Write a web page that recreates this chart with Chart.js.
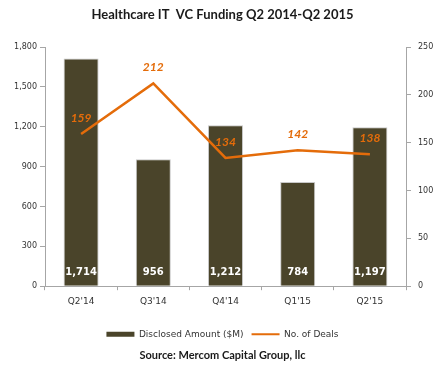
<!DOCTYPE html>
<html>
<head>
<meta charset="utf-8">
<script src="https://cdn.jsdelivr.net/npm/chart.js@4/dist/chart.umd.min.js"></script>
<style>
  html, body { margin: 0; padding: 0; background: #fff; }
  #wrap { width: 445px; height: 374px; }
</style>
</head>
<body>
<div id="wrap"><canvas id="chart" width="445" height="374"></canvas></div>
<script>
// data
const quarters = ["Q2'14", "Q3'14", "Q4'14", "Q1'15", "Q2'15"];
const disclosedAmount = [1714, 956, 1212, 784, 1197];
const dealCount = [159, 212, 134, 142, 138];
const leftTicks = [0, 300, 600, 900, 1200, 1500, 1800];
const rightTicks = [0, 50, 100, 150, 200, 250];

const barColor = "#4a442a";
const lineColor = "#e46c0a";
const axisColor = "#a6a6a6";
const textColor = "#333333";

// value labels: white in the bars, orange above the line
const valueLabels = {
  id: "valueLabels",
  afterDatasetsDraw(chart) {
    const ctx = chart.ctx;
    ctx.save();
    ctx.textAlign = "center";
    ctx.textBaseline = "middle";

    const bars = chart.getDatasetMeta(0);
    ctx.fillStyle = "#ffffff";
    ctx.font = "bold 10px 'DejaVu Sans'";
    bars.data.forEach((el, i) => {
      ctx.fillText(disclosedAmount[i].toLocaleString("en-US"), el.x, el.base - 13);
    });

    const line = chart.getDatasetMeta(1);
    ctx.fillStyle = lineColor;
    ctx.font = "italic bold 12px Lato";
    line.data.forEach((el, i) => {
      ctx.fillText(String(dealCount[i]), el.x, el.y - 16);
    });
    ctx.restore();
  },
};

new Chart(document.getElementById("chart"), {
  data: {
    labels: quarters,
    datasets: [
      {
        type: "bar",
        label: "Disclosed Amount ($M)",
        data: disclosedAmount,
        yAxisID: "yAmount",
        backgroundColor: barColor,
        borderColor: "#c8c8c8",
        borderWidth: 1,
        barPercentage: 0.485,
        categoryPercentage: 1,
        order: 2,
      },
      {
        type: "line",
        label: "No. of Deals",
        data: dealCount,
        yAxisID: "yDeals",
        borderColor: lineColor,
        backgroundColor: lineColor,
        borderWidth: 2.5,
        pointRadius: 0,
        tension: 0,
        order: 1,
      },
    ],
  },
  options: {
    responsive: false,
    animation: false,
    layout: { padding: { bottom: 12 } },
    plugins: {
      title: {
        display: true,
        text: "Healthcare IT  VC Funding Q2 2014-Q2 2015",
        color: "#1a1a1a",
        font: { family: "Lato", size: 13, weight: "bold", lineHeight: 1.2 },
        padding: { top: 7, bottom: 24.4 },
      },
      subtitle: {
        display: true,
        position: "bottom",
        text: "Source: Mercom Capital Group, llc",
        color: "#1a1a1a",
        font: { family: "Lato", size: 11, weight: "bold", lineHeight: 1.2 },
        padding: { top: 0, bottom: 0 },
      },
      legend: {
        position: "bottom",
        labels: {
          usePointStyle: true,
          pointStyleWidth: 28,
          boxHeight: 5,
          padding: 8,
          color: textColor,
          font: { family: "DejaVu Sans", size: 9, lineHeight: 1 },
          sort: (a, b) => a.datasetIndex - b.datasetIndex,
          generateLabels(chart) {
            const items = Chart.defaults.plugins.legend.labels.generateLabels(chart);
            items.forEach((item) => {
              if (item.datasetIndex === 0) {
                item.pointStyle = "rect";
                item.lineWidth = 0;
                item.fillStyle = barColor;
              } else {
                item.pointStyle = "line";
                item.lineWidth = 2;
                item.strokeStyle = lineColor;
              }
            });
            return items;
          },
        },
      },
      tooltip: { enabled: false },
    },
    scales: {
      x: {
        grid: { offset: true, drawOnChartArea: false, tickLength: 4, color: axisColor },
        border: { color: axisColor },
        ticks: { color: textColor, padding: 6, font: { family: "DejaVu Sans", size: 9 } },
        afterFit(scale) { scale.height = 35.6; },
      },
      yAmount: {
        position: "left",
        min: 0,
        max: 1800,
        afterBuildTicks(scale) { scale.ticks = leftTicks.map((v) => ({ value: v })); },
        grid: { drawOnChartArea: false, tickLength: 5, color: axisColor },
        border: { color: axisColor },
        ticks: {
          color: textColor,
          padding: 3,
          font: { family: "DejaVu Sans", size: 8 },
          callback: (v) => v.toLocaleString("en-US"),
        },
        afterFit(scale) { scale.width = 45; },
      },
      yDeals: {
        position: "right",
        min: 0,
        max: 250,
        afterBuildTicks(scale) { scale.ticks = rightTicks.map((v) => ({ value: v })); },
        grid: { drawOnChartArea: false, tickLength: 5, color: axisColor },
        border: { color: axisColor },
        ticks: { color: textColor, padding: 7, font: { family: "DejaVu Sans", size: 8 } },
        afterFit(scale) { scale.width = 39; },
      },
    },
  },
  plugins: [valueLabels],
});
</script>
</body>
</html>
